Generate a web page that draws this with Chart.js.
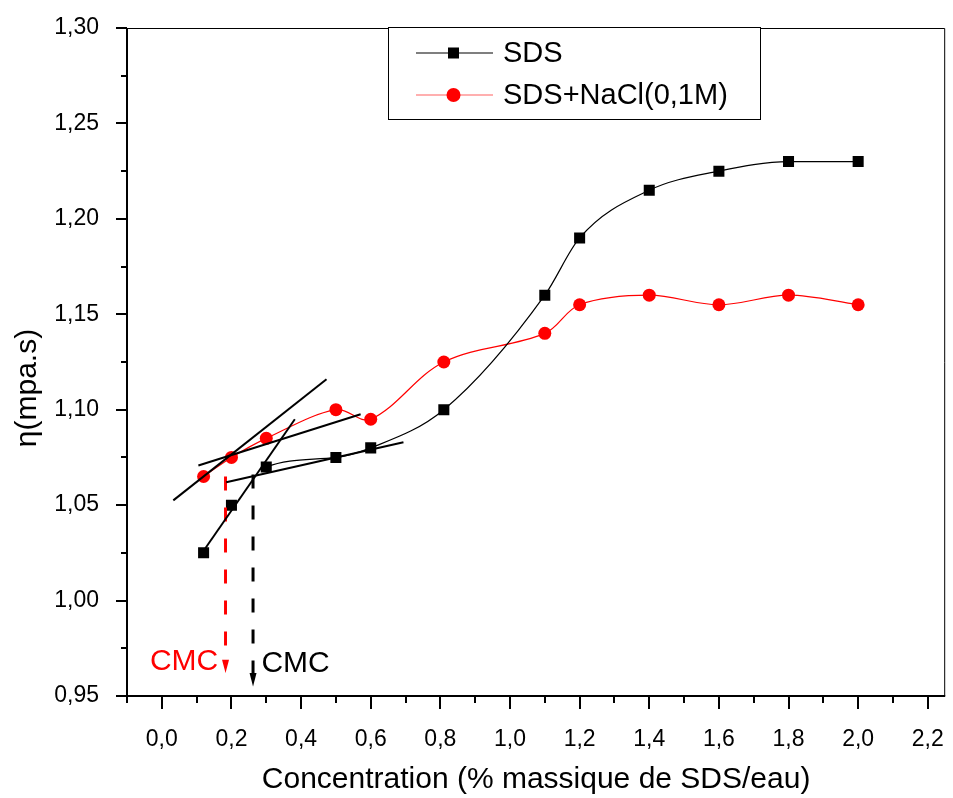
<!DOCTYPE html>
<html lang="fr">
<head>
  <meta charset="UTF-8" />
  <title>Viscosité SDS / SDS+NaCl</title>
  <script src="https://cdn.jsdelivr.net/npm/chart.js"></script>
  <style>
    html, body {
      margin: 0;
      padding: 0;
      background: #fff;
    }
    #wrap {
      width: 953px;
      height: 798px;
    }
  </style>
</head>
<body>
  <div id="wrap">
    <canvas id="viscChart" width="953" height="798"></canvas>
  </div>

  <script>
    // values
    const concentration = [0.12, 0.2, 0.3, 0.5, 0.6, 0.81, 1.1, 1.2, 1.4, 1.6, 1.8, 2.0];
    const viscSDS  = [1.025, 1.05, 1.07, 1.075, 1.08, 1.10, 1.16, 1.19, 1.215, 1.225, 1.23, 1.23];
    const viscNaCl = [1.065, 1.075, 1.085, 1.10, 1.095, 1.125, 1.14, 1.155, 1.16, 1.155, 1.16, 1.155];

    const seriesNames = ['SDS', 'SDS+NaCl(0,1M)'];

    const xTicks = [0, 0.2, 0.4, 0.6, 0.8, 1.0, 1.2, 1.4, 1.6, 1.8, 2.0, 2.2];
    const yTicks = [0.95, 1.0, 1.05, 1.1, 1.15, 1.2, 1.25, 1.3];

    // tangent lines used to find the CMC : [x0, y0, x1, y1]
    const tangents = [
      [0.033, 1.0525, 0.473, 1.116],
      [0.105, 1.0708, 0.571, 1.0976],
      [0.125, 1.0274, 0.382, 1.095],
      [0.185, 1.062, 0.694, 1.083]
    ];

    // CMC markers (red = SDS+NaCl, black = SDS)
    const cmcX      = [0.183, 0.262];
    const cmcTop    = [1.065, 1.066];
    const cmcBase   = [0.969, 0.962];
    const cmcTip    = [0.962, 0.955];
    const cmcColors = ['#ff0000', '#000000'];
    const cmcLabelX = [0.162, 0.286];
    const cmcLabelY = [0.9637, 0.9625];
    const cmcAlign  = ['right', 'left'];

    const FONT = "'Liberation Sans', Arial, sans-serif";
    Chart.defaults.font.family = FONT;
    Chart.defaults.color = '#000';

    const comma = (v, d) => v.toFixed(d).replace('.', ',');

    const noPad = s => {
      s.paddingLeft = 0;
      s.paddingRight = 0;
      s.paddingTop = 0;
      s.paddingBottom = 0;
    };

    // frame, ticks, y title, CMC labels, legend
    const decorPlugin = {
      id: 'decor',
      afterDraw: chart => {
        const ctx = chart.ctx;
        const a = chart.chartArea;
        const xs = chart.scales.x;
        const ys = chart.scales.y;
        ctx.save();
        ctx.strokeStyle = '#000';
        ctx.fillStyle = '#000';

        // top + right (thin)
        ctx.lineWidth = 1;
        ctx.beginPath();
        ctx.moveTo(a.left, a.top + 0.5);
        ctx.lineTo(a.right - 0.5, a.top + 0.5);
        ctx.lineTo(a.right - 0.5, a.bottom);
        ctx.stroke();

        // left + bottom (thick)
        ctx.lineWidth = 2;
        ctx.beginPath();
        ctx.moveTo(a.left, a.top);
        ctx.lineTo(a.left, a.bottom);
        ctx.lineTo(a.right, a.bottom);
        ctx.stroke();

        // y ticks
        yTicks.forEach((v, i) => {
          const p = Math.round(ys.getPixelForValue(v));
          ctx.beginPath();
          ctx.moveTo(a.left - 11, p);
          ctx.lineTo(a.left, p);
          ctx.stroke();
          if (i < yTicks.length - 1) {
            const m = Math.round(ys.getPixelForValue((v + yTicks[i + 1]) / 2));
            ctx.beginPath();
            ctx.moveTo(a.left - 6, m);
            ctx.lineTo(a.left, m);
            ctx.stroke();
          }
        });

        // x ticks
        xTicks.forEach((v, i) => {
          const p = Math.round(xs.getPixelForValue(v));
          ctx.beginPath();
          ctx.moveTo(p, a.bottom);
          ctx.lineTo(p, a.bottom + 13);
          ctx.stroke();
          const prev = i === 0 ? v - 0.2 : xTicks[i - 1];
          const m = Math.round(xs.getPixelForValue((v + prev) / 2));
          ctx.beginPath();
          ctx.moveTo(m, a.bottom);
          ctx.lineTo(m, a.bottom + 7);
          ctx.stroke();
        });

        // y title
        ctx.save();
        ctx.translate(28, 388);
        ctx.rotate(-Math.PI / 2);
        ctx.font = '30px ' + FONT;
        ctx.textAlign = 'center';
        ctx.textBaseline = 'middle';
        ctx.fillText('η(mpa.s)', 0, 0);
        ctx.restore();

        // CMC arrowheads + labels
        cmcX.forEach((x, i) => {
          const px = xs.getPixelForValue(x);
          const tip = ys.getPixelForValue(cmcTip[i]);
          const base = ys.getPixelForValue(cmcBase[i]);
          ctx.fillStyle = cmcColors[i];
          ctx.beginPath();
          ctx.moveTo(px - 3.5, base);
          ctx.lineTo(px + 3.5, base);
          ctx.lineTo(px, tip);
          ctx.closePath();
          ctx.fill();

          ctx.font = '30px ' + FONT;
          ctx.textAlign = cmcAlign[i];
          ctx.textBaseline = 'alphabetic';
          ctx.fillText('CMC', xs.getPixelForValue(cmcLabelX[i]), ys.getPixelForValue(cmcLabelY[i]));
        });

        // legend
        const lx = 388, ly = 27, lw = 372, lh = 92;
        ctx.fillStyle = '#fff';
        ctx.fillRect(lx, ly, lw, lh);
        ctx.lineWidth = 1;
        ctx.strokeStyle = '#000';
        ctx.strokeRect(lx + 0.5, ly + 0.5, lw, lh);

        const rows = [53, 95];
        const n = chart.data.datasets.length;
        const sets = [chart.data.datasets[n - 2], chart.data.datasets[n - 1]];
        sets.forEach((ds, i) => {
          const y = rows[i];
          ctx.strokeStyle = i === 0 ? '#000' : '#ff6060';
          ctx.lineWidth = 1.2;
          ctx.beginPath();
          ctx.moveTo(416, y);
          ctx.lineTo(493, y);
          ctx.stroke();
          ctx.fillStyle = ds.pointBackgroundColor;
          if (i === 0) {
            ctx.fillRect(448, y - 5.5, 11, 11);
          } else {
            ctx.beginPath();
            ctx.arc(453.5, y, 7, 0, Math.PI * 2);
            ctx.fill();
          }
          ctx.fillStyle = '#000';
          ctx.font = '29px ' + FONT;
          ctx.textAlign = 'left';
          ctx.textBaseline = 'middle';
          ctx.fillText(ds.label, 503, y + 1);
        });

        ctx.restore();
      }
    };

    const tangentSets = tangents.map(t => ({
      label: 'tangente',
      data: [{ x: t[0], y: t[1] }, { x: t[2], y: t[3] }],
      showLine: true,
      borderColor: '#000',
      borderWidth: 2,
      pointRadius: 0
    }));

    const cmcSets = cmcX.map((x, i) => ({
      label: 'CMC',
      data: [{ x: x, y: cmcTop[i] }, { x: x, y: cmcBase[i] }],
      showLine: true,
      borderColor: cmcColors[i],
      borderWidth: 3,
      borderDash: [14, 17],
      pointRadius: 0
    }));

    const sdsSet = {
      label: seriesNames[0],
      data: concentration.map((x, i) => ({ x: x, y: viscSDS[i] })),
      showLine: true,
      borderColor: '#000',
      borderWidth: 1.2,
      cubicInterpolationMode: 'monotone',
      pointStyle: 'rect',
      pointRadius: 7.8,
      pointBackgroundColor: '#000',
      pointBorderWidth: 0,
      segment: {
        // fitted curve only starts after the first points
        borderColor: c => c.p0DataIndex < 2 ? 'rgba(0,0,0,0)' : undefined
      }
    };

    const naclSet = {
      label: seriesNames[1],
      data: concentration.map((x, i) => ({ x: x, y: viscNaCl[i] })),
      showLine: true,
      borderColor: '#ff0000',
      borderWidth: 1.2,
      tension: 0.35,
      pointStyle: 'circle',
      pointRadius: 6.5,
      pointBackgroundColor: '#ff0000',
      pointBorderWidth: 0
    };

    const chart = new Chart(document.getElementById('viscChart'), {
      type: 'scatter',
      data: {
        datasets: [...tangentSets, ...cmcSets, sdsSet, naclSet]
      },
      options: {
        responsive: false,
        animation: false,
        devicePixelRatio: 1,
        layout: {
          padding: { top: 28, right: 2, left: 0, bottom: 0 }
        },
        scales: {
          x: {
            type: 'linear',
            min: -0.1,
            max: 2.25,
            afterBuildTicks: s => { s.ticks = xTicks.map(v => ({ value: v })); },
            afterFit: s => { s.height = 102; noPad(s); },
            grid: { display: false },
            border: { display: false },
            ticks: {
              font: { size: 23 },
              color: '#000',
              padding: 22,
              autoSkip: false,
              maxRotation: 0,
              callback: v => comma(v, 1)
            },
            title: {
              display: true,
              text: 'Concentration (% massique de SDS/eau)',
              font: { size: 30 },
              color: '#000',
              padding: 0
            }
          },
          y: {
            type: 'linear',
            min: 0.95,
            max: 1.30,
            afterBuildTicks: s => { s.ticks = yTicks.map(v => ({ value: v })); },
            afterFit: s => { s.width = 127; noPad(s); },
            grid: { display: false },
            border: { display: false },
            ticks: {
              font: { size: 23 },
              color: '#000',
              padding: 20,
              autoSkip: false,
              callback: v => comma(v, 2)
            }
          }
        },
        plugins: {
          legend: { display: false },
          tooltip: { enabled: false }
        }
      },
      plugins: [decorPlugin]
    });
  </script>
</body>
</html>
